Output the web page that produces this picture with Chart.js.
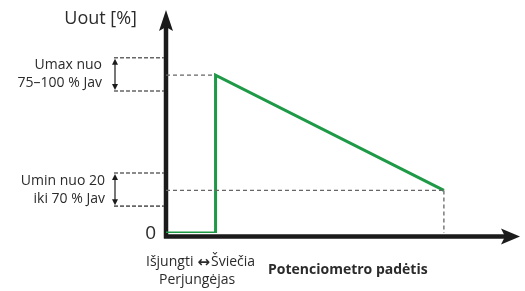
<!DOCTYPE html>
<html lang="lt">
<head>
<meta charset="UTF-8">
<title>Uout / Potenciometro padėtis</title>
<script src="https://cdn.jsdelivr.net/npm/chart.js"></script>
<style>
  body { margin: 0; background: #fff; }
  #wrap { width: 525px; height: 291px; }
</style>
</head>
<body>
<div id="wrap"><canvas id="myChart" width="525" height="291"></canvas></div>
<script>
// potenciometro padetis (x) ir Uout % (y)
const potPos = [0, 14, 14, 78.5];
const uout = [0, 0, 100, 27];
const umaxLevel = 100, uminLevel = 27, endPos = 78.5;
const umaxRange = [90, 111];   // laikiklis "Umax nuo 75-100 % Jav"
const uminRange = [17, 38];    // laikiklis "Umin nuo 20 iki 70 % Jav"
const yTitle = "Uout [%]";
const xTitle = "Potenciometro padėtis";
const umaxText = ["Umax nuo", "75–100 % Jav"];
const uminText = ["Umin nuo 20", "iki 70 % Jav"];
const switchText = ["Išjungti", "↔", "Šviečia", "Perjungėjas"];

const GREEN = "#1e9a47";
const GREY = "#666666";
const TXT = "#2b2b2b";
const FONT = "'Open Sans', 'Noto Sans', sans-serif";

function pts(xs, ys) { return xs.map((x, i) => ({ x: x, y: ys[i] })); }

function guide(xs, ys) {
  return {
    data: pts(xs, ys), borderColor: GREY, borderWidth: 1.3, borderDash: [4, 3],
    pointRadius: 0, showLine: true, fill: false
  };
}

const axesPlugin = {
  id: "axes",
  beforeDatasetsDraw(chart) {
    const c = chart.ctx, a = chart.chartArea;
    const ys = chart.scales.y;
    const ox = a.left, oy = a.bottom + 3.5;
    c.save();
    c.strokeStyle = "#1b1b1b";
    c.fillStyle = "#1b1b1b";
    c.lineWidth = 4.5;
    c.beginPath();
    c.moveTo(ox, oy + 2); c.lineTo(ox, a.top + 12);
    c.moveTo(ox - 2, oy); c.lineTo(a.right - 12, oy);
    c.stroke();
    // strelyte aukstyn
    c.beginPath();
    c.moveTo(ox, a.top - 2);
    c.lineTo(ox + 7, a.top + 19);
    c.lineTo(ox, a.top + 15);
    c.lineTo(ox - 7, a.top + 19);
    c.closePath(); c.fill();
    // strelyte i desine
    c.beginPath();
    c.moveTo(a.right, oy);
    c.lineTo(a.right - 19, oy - 8);
    c.lineTo(a.right - 15, oy);
    c.lineTo(a.right - 19, oy + 8);
    c.closePath(); c.fill();

    // laikikliai
    c.lineWidth = 1.6;
    c.strokeStyle = GREY;
    c.setLineDash([4, 2]);
    const bx = ox - 52;
    [umaxRange, uminRange].forEach(r => {
      r.forEach(v => {
        const py = ys.getPixelForValue(v);
        c.beginPath(); c.moveTo(bx, py); c.lineTo(ox - 2, py); c.stroke();
      });
    });
    c.setLineDash([]);
    c.strokeStyle = "#1b1b1b";
    c.fillStyle = "#1b1b1b";
    c.lineWidth = 1.2;
    const ax = bx + 1;
    [umaxRange, uminRange].forEach(r => {
      const y1 = ys.getPixelForValue(r[1]) + 1, y0 = ys.getPixelForValue(r[0]) - 1;
      c.beginPath(); c.moveTo(ax, y1 + 3); c.lineTo(ax, y0 - 3); c.stroke();
      c.beginPath(); c.moveTo(ax, y1); c.lineTo(ax + 3, y1 + 6); c.lineTo(ax - 3, y1 + 6); c.closePath(); c.fill();
      c.beginPath(); c.moveTo(ax, y0); c.lineTo(ax + 3, y0 - 6); c.lineTo(ax - 3, y0 - 6); c.closePath(); c.fill();
    });

    // tekstai
    c.fillStyle = TXT;
    c.textBaseline = "middle";
    c.textAlign = "right";
    c.font = "18px " + FONT;
    c.fillText(yTitle, ox - 29, 19);
    c.font = "14px " + FONT;
    const umaxMid = ys.getPixelForValue((umaxRange[0] + umaxRange[1]) / 2);
    c.fillText(umaxText[0], bx - 12, umaxMid - 9);
    c.fillText(umaxText[1], bx - 12, umaxMid + 9);
    const uminMid = ys.getPixelForValue((uminRange[0] + uminRange[1]) / 2);
    c.fillText(uminText[0], bx - 9, uminMid - 9);
    c.fillText(uminText[1], bx - 9, uminMid + 9);
    c.font = "19px " + FONT;
    c.fillText("0", ox - 10, oy - 3);
    c.textAlign = "left";
    c.font = "14px " + FONT;
    let tx = ox - 20;
    c.fillText(switchText[0], tx, oy + 26);
    tx += c.measureText(switchText[0]).width + 4;
    c.font = "bold 15px 'DejaVu Sans', sans-serif";
    c.fillText(switchText[1], tx, oy + 27);
    tx += c.measureText(switchText[1]).width + 1;
    c.font = "14px " + FONT;
    c.fillText(switchText[2], tx, oy + 26);
    c.fillText(switchText[3], ox - 7, oy + 44);
    c.font = "bold 14px " + FONT;
    c.fillText(xTitle, ox + 102, oy + 34);
    c.restore();
  }
};

new Chart(document.getElementById("myChart").getContext("2d"), {
  type: "scatter",
  data: {
    datasets: [
      guide([0, potPos[2]], [umaxLevel, umaxLevel]),
      guide([0, endPos], [uminLevel, uminLevel]),
      guide([endPos, endPos], [uminLevel, 0]),
      {
        data: pts(potPos, uout), borderColor: GREEN, borderWidth: 3,
        pointRadius: 0, showLine: true, fill: false, borderJoinStyle: "miter"
      }
    ]
  },
  options: {
    responsive: false,
    animation: false,
    layout: { padding: { left: 166, right: 5, top: 12, bottom: 58 } },
    scales: {
      x: { type: "linear", min: 0, max: 100, display: false },
      y: { type: "linear", min: 0, max: 140, display: false }
    },
    plugins: { legend: { display: false }, tooltip: { enabled: false } }
  },
  plugins: [axesPlugin]
});
</script>
</body>
</html>
